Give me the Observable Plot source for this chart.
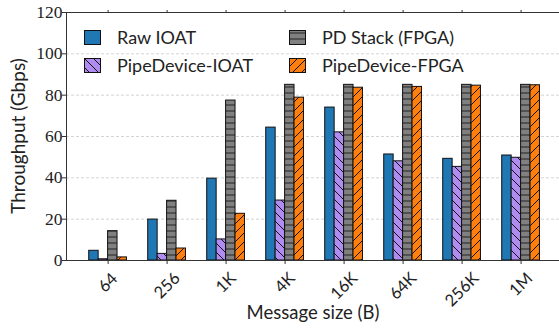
<!DOCTYPE html>
<html>
<head>
<meta charset="utf-8">
<script src="https://cdn.jsdelivr.net/npm/d3@7"></script>
<script src="https://cdn.jsdelivr.net/npm/@observablehq/plot@0.6"></script>
<style>
  html, body { margin: 0; padding: 0; background: #fff; }
  #wrap { position: relative; width: 559px; height: 328px; }
  .leg { position: absolute; display: flex; align-items: center; font-family: Lato, sans-serif; font-size: 18px; color: #222; white-space: nowrap; }
  .leg svg { margin-right: 16px; }
</style>
</head>
<body>
<svg width="0" height="0" style="position:absolute">
  <defs>
    <pattern id="hatch-purple" patternUnits="userSpaceOnUse" width="9" height="9">
      <rect width="9" height="9" fill="#b08cf0"/>
      <path d="M0,0 L9,9 M-2,7 L2,11 M7,-2 L11,2" stroke="#111" stroke-width="1"/>
    </pattern>
    <pattern id="hatch-orange" patternUnits="userSpaceOnUse" width="9" height="9">
      <rect width="9" height="9" fill="#ff7f0e"/>
      <path d="M0,9 L9,0 M-2,2 L2,-2 M7,11 L11,7" stroke="#111" stroke-width="1"/>
    </pattern>
    <pattern id="hatch-gray" patternUnits="userSpaceOnUse" width="6" height="6">
      <rect width="6" height="6" fill="#808080"/>
      <path d="M0,3 L6,3" stroke="#222" stroke-width="1"/>
    </pattern>
  </defs>
</svg>
<div id="wrap"></div>
<script>
// ---- data ----
const sizes = ["64", "256", "1K", "4K", "16K", "64K", "256K", "1M"];
const seriesNames = ["Raw IOAT", "PipeDevice-IOAT", "PD Stack (FPGA)", "PipeDevice-FPGA"];
const rawIOAT = [4.7, 19.8, 39.6, 64.3, 74.0, 51.3, 49.2, 50.8];
const pipeDeviceIOAT = [0.6, 3.2, 10.2, 29.0, 62.0, 48.0, 45.3, 49.7];
const pdStackFPGA = [14.2, 28.9, 77.4, 85.0, 85.0, 85.0, 85.0, 85.0];
const pipeDeviceFPGA = [1.5, 5.8, 22.6, 78.8, 83.6, 84.0, 84.6, 84.8];
const yTicks = [0, 20, 40, 60, 80, 100, 120];

const seriesValues = [rawIOAT, pipeDeviceIOAT, pdStackFPGA, pipeDeviceFPGA];
const seriesFills = ["#1f77b4", "url(#hatch-purple)", "url(#hatch-gray)", "url(#hatch-orange)"];

const barW = 0.16;
const xMin = -0.705, xMax = 7.651;
const idx = sizes.map((_, i) => i);

const barMarks = seriesValues.map((vals, j) => {
  const rows = vals.map((v, i) => ({i, v}));
  return Plot.rectY(rows, {
    x1: d => d.i + (j - 2) * barW,
    x2: d => d.i + (j - 1) * barW,
    y1: 0,
    y2: "v",
    fill: seriesFills[j],
    stroke: "#111",
    strokeWidth: 1
  });
});

const serif = "'Liberation Serif', 'DejaVu Serif', serif";

const plot = Plot.plot({
  width: 559,
  height: 328,
  marginLeft: 66,
  marginRight: 0,
  marginTop: 12,
  marginBottom: 68,
  style: {fontSize: "16px", color: "#222", background: "#fff"},
  x: {domain: [xMin, xMax], axis: null},
  y: {domain: [0, 120], axis: null},
  marks: [
    Plot.gridY(yTicks.filter(v => v > 0 && v < 120), {stroke: "#d4d4d4", strokeOpacity: 1, strokeDasharray: "3,2"}),
    ...barMarks,
    Plot.ruleY([0], {stroke: "#333"}),
    Plot.ruleY([120], {stroke: "#333"}),
    Plot.ruleX([xMin], {stroke: "#333"}),
    Plot.axisY(yTicks, {tickSize: 4, tickFormat: () => "", label: null, stroke: "#333"}),
    Plot.text(yTicks, {x: xMin, y: d => d, text: d => String(d), textAnchor: "end", dx: -4, fontFamily: serif, fontSize: 17.5, fill: "#222"}),
    Plot.axisX(idx, {tickSize: 4, tickPadding: 4, tickRotate: -45, textAnchor: "middle", tickFormat: i => sizes[i], label: null, fontSize: 16.5, fontFamily: "Lato", stroke: "#333"}),
    Plot.axisX(idx, {anchor: "top", tickSize: 3, tickFormat: () => "", label: null, stroke: "#333"})
  ]
});

const wrap = document.getElementById("wrap");
wrap.appendChild(plot);

// center rotated tick labels below each tick (bbox-centered like the original)
const xs = plot.scale("x");
const svgRect = plot.getBoundingClientRect();
const labels = Array.from(plot.querySelectorAll('g[aria-label="x-axis tick label"] text')).filter(t => t.textContent.trim() !== "");
labels.forEach(t => {
  const i = sizes.indexOf(t.textContent.trim());
  if (i < 0) return;
  t.style.fontFamily = "Lato, sans-serif";
  const r = t.getBoundingClientRect();
  const cx = (r.left + r.right) / 2 - svgRect.left;
  const top = r.top - svgRect.top;
  const dx = xs.apply(i) - cx;
  const dy = 268 - top;
  t.setAttribute("transform", `translate(${dx},${dy}) ` + (t.getAttribute("transform") || ""));
});

// axis titles
const svg = d3.select(plot);
svg.append("text")
  .attr("transform", "translate(25,136) rotate(-90)")
  .attr("text-anchor", "middle")
  .attr("font-family", "Lato, sans-serif")
  .attr("font-size", 19)
  .attr("fill", "#222")
  .text("Throughput (Gbps)");
svg.append("text")
  .attr("x", 313)
  .attr("y", 319)
  .attr("text-anchor", "middle")
  .attr("font-family", "Lato, sans-serif")
  .attr("font-size", 18.5)
  .attr("fill", "#222")
  .text("Message size (B)");

// legend (two columns, column-major like the original)
const legPos = [[84, 30], [84, 58], [289, 30], [289, 58]];
seriesNames.forEach((name, j) => {
  const div = document.createElement("div");
  div.className = "leg";
  div.style.left = legPos[j][0] + "px";
  div.style.top = (legPos[j][1] - 4) + "px";
  div.style.height = "22px";
  div.innerHTML = `<svg width="17" height="15"><rect x="0.5" y="0.5" width="16" height="14" fill="${seriesFills[j]}" stroke="#111"/></svg><span>${name}</span>`;
  wrap.appendChild(div);
});
</script>
</body>
</html>
